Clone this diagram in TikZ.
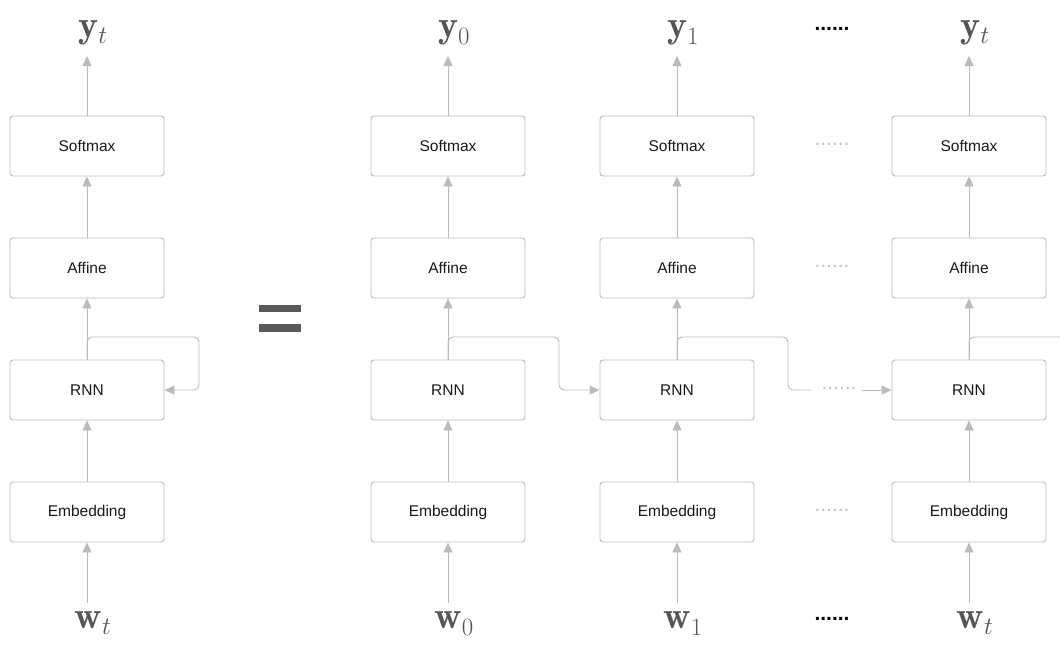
\documentclass[tikz,border=0pt]{standalone}
\usepackage{fontspec}
\setsansfont{Liberation Sans}
\usetikzlibrary{arrows.meta}
\definecolor{linegray}{HTML}{BBBBBB}
\definecolor{labelgray}{HTML}{555555}
\definecolor{dotgray}{HTML}{C4C4C4}
\definecolor{eqgray}{HTML}{5A5A5A}
\begin{document}
\begin{tikzpicture}[x=1pt,y=-1pt,
  layerbox/.style={draw=linegray, line width=0.9pt, rounded corners=3pt, minimum width=154pt, minimum height=60pt, inner sep=0pt, font=\sffamily\fontsize{15.5}{18}\selectfont, text=black!90},
  conn/.style={draw=linegray, line width=0.9pt, -{Triangle[length=10pt,width=9pt]}},
  loopline/.style={draw=linegray, line width=0.9pt, rounded corners=5pt},
  veclabel/.style={text=labelgray, font=\fontsize{38}{42}\selectfont, inner sep=0pt},
  blackdots/.style={font=\sffamily\bfseries\fontsize{21}{24}\selectfont, text=black, inner sep=0pt},
  graydots/.style={font=\sffamily\fontsize{21}{24}\selectfont, text=dotgray, inner sep=0pt},
  eqbar/.style={fill=eqgray, draw=none}
]
\useasboundingbox (0,0) rectangle (1060,646);

% columns
\foreach \n/\cx/\sub in {a/87/t, b/448/0, c/677/1, d/969/t}{
  \node[layerbox] (\n soft) at (\cx,146) {Softmax};
  \node[layerbox] (\n aff)  at (\cx,268) {Affine};
  \node[layerbox] (\n rnn)  at (\cx,390) {RNN};
  \node[layerbox] (\n emb)  at (\cx,512) {Embedding};
  \node[veclabel, anchor=base] (\n y) at (\cx+6,37) {$\mathbf{y}_{\sub}$};
  \node[veclabel, anchor=base] (\n w) at (\cx+6,628) {$\mathbf{w}_{\sub}$};
  \coordinate (\n ytip) at (\cx,56);
  \coordinate (\n wbot) at (\cx,603);
  \coordinate (\n br) at (\cx,337);
  \draw[conn] (\n soft.north) -- (\n ytip);
  \draw[conn] (\n aff.north) -- (\n soft.south);
  \draw[conn] (\n rnn.north) -- (\n aff.south);
  \draw[conn] (\n emb.north) -- (\n rnn.south);
  \draw[conn] (\n wbot) -- (\n emb.south);
}

% left recurrent loop
\coordinate (aloop) at (199,337);
\draw[loopline, -{Triangle[length=10pt,width=9pt]}] (arnn.north) -- (abr) -- (aloop) |- (arnn.east);

% column b -> c
\coordinate (bloop) at (559,337);
\draw[loopline, -{Triangle[length=10pt,width=9pt]}] (brnn.north) -- (bbr) -- (bloop) |- (crnn.west);

% column c -> ... -> d
\coordinate (cloop) at (788,337);
\coordinate (cend) at (812,390);
\coordinate (dstart) at (862,390);
\draw[loopline] (crnn.north) -- (cbr) -- (cloop) |- (cend);
\node[graydots] (rnndots) at (839,388) {......};
\draw[conn] (dstart) -- (drnn.west);

% column d -> out
\coordinate (dout) at (1060,337);
\draw[loopline] (drnn.north) -- (dbr) -- (dout);

% dots
\node[blackdots] (topdots) at (832,29) {......};
\node[blackdots] (botdots) at (832,619) {......};
\node[graydots] (softdots) at (832,144) {......};
\node[graydots] (affdots) at (832,266) {......};
\node[graydots] (embdots) at (832,510) {......};

% equals sign
\fill[eqbar] (259,305) rectangle (301,312);
\fill[eqbar] (259,324) rectangle (301,332);
\end{tikzpicture}
\end{document}
